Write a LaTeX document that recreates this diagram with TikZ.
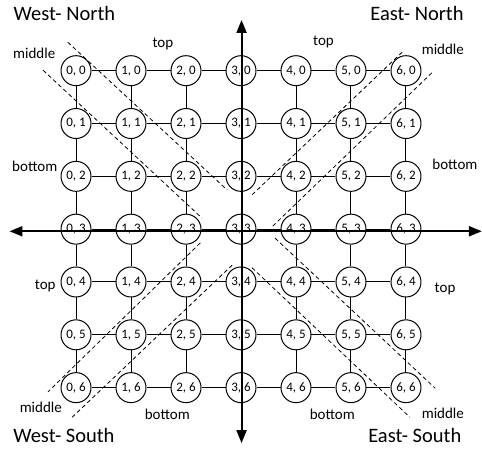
\documentclass[tikz,border=0pt]{standalone}
\usepackage{fontspec}
\setmainfont{Carlito}
\usetikzlibrary{arrows.meta}

\begin{document}
\begin{tikzpicture}[x=55pt,y=-52.83pt,
  cell/.style={draw,circle,line width=1pt,minimum size=30pt,inner sep=0pt,fill=white,font=\fontsize{13}{13}\selectfont},
  link/.style={line width=1pt},
  cut/.style={line width=0.8pt,dash pattern=on 4pt off 3pt},
  axis/.style={line width=2pt,{Triangle[length=13pt,width=10pt]}-{Triangle[length=13pt,width=10pt]}},
  zone/.style={font=\fontsize{15}{15}\selectfont},
  side/.style={font=\fontsize{20.5}{20.5}\selectfont}]

  \useasboundingbox (-1.382,-1.338) rectangle (7.382,7.180);

  % Define the cells of the grid
  \foreach \i in {0,...,6}
    \foreach \j in {0,...,6}
      \node[cell] (c\i\j) at (\i,\j) {\i, \j};

  % Connect neighbouring cells
  \foreach \i in {0,...,6}
    \foreach \j [count=\k] in {0,...,5}
      {\draw[link] (c\i\j) -- (c\i\k); \draw[link] (c\j\i) -- (c\k\i);}

  % Dashed bands along the diagonals
  \draw[cut] (-0.15,-0.54) -- (2.75,2.26);
  \draw[cut] (-0.60,-0.01) -- (2.29,2.79);
  \draw[cut] (5.93,-0.35) -- (3.16,2.39);
  \draw[cut] (6.47,0.04) -- (3.56,2.96);
  \draw[cut] (2.26,3.26) -- (-0.51,6.08);
  \draw[cut] (2.84,3.68) -- (-0.07,6.56);
  \draw[cut] (3.62,3.17) -- (6.53,6.01);
  \draw[cut] (3.20,3.73) -- (6.07,6.56);

  % Define the ends of the axes
  \coordinate (north) at (3.01,-0.96);
  \coordinate (south) at (3.01,7.05);
  \coordinate (west) at (-1.21,3.04);
  \coordinate (east) at (7.38,3.04);

  \draw[axis] (south) -- (north);
  \draw[axis] (west) -- (east);

  % Label the quadrants
  \node[side] (wn) at (-0.21,-1.08) {West- North};
  \node[side] (en) at (6.20,-1.09) {East- North};
  \node[side] (ws) at (-0.22,6.90) {West- South};
  \node[side] (es) at (6.16,6.90) {East- South};

  % Label the bands
  \node[zone] (wnTop) at (1.58,-0.50) {top};
  \node[zone] (wnMid) at (-0.76,-0.32) {middle};
  \node[zone] (wnBot) at (-0.75,1.82) {bottom};
  \node[zone] (enTop) at (4.50,-0.54) {top};
  \node[zone] (enMid) at (6.67,-0.41) {middle};
  \node[zone] (enBot) at (6.89,1.77) {bottom};
  \node[zone] (wsTop) at (-0.56,4.08) {top};
  \node[zone] (wsMid) at (-0.64,6.38) {middle};
  \node[zone] (wsBot) at (1.66,6.50) {bottom};
  \node[zone] (esTop) at (6.71,4.13) {top};
  \node[zone] (esMid) at (6.67,6.48) {middle};
  \node[zone] (esBot) at (4.66,6.50) {bottom};

\end{tikzpicture}
\end{document}
